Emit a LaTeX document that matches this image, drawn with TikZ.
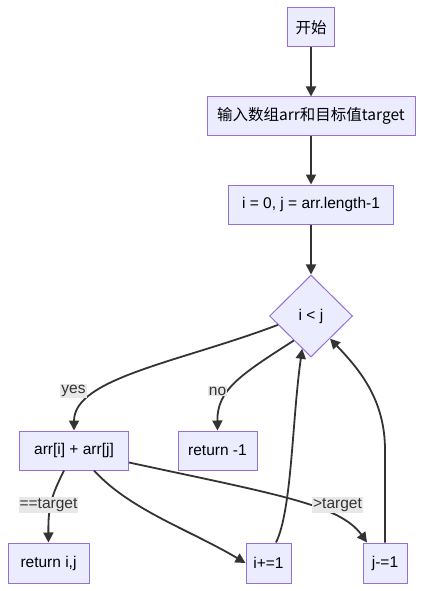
\documentclass[tikz,border=0pt]{standalone}
\usepackage{fontspec}
\setmainfont{Liberation Sans}
\newfontfamily\cjk{Noto Sans CJK SC}
\usetikzlibrary{shapes.geometric,arrows.meta}
\definecolor{nodefill}{HTML}{ECECFF}
\definecolor{nodeline}{HTML}{9370DB}
\definecolor{edgecol}{HTML}{333333}
\definecolor{lblbg}{HTML}{E8E8E8}
\tikzset{
  box/.style={draw=nodeline, fill=nodefill, line width=1pt, inner sep=0pt, font=\fontsize{15.5}{18}\selectfont},
  cond/.style={box, diamond},
  edge/.style={draw=edgecol, line width=1.8pt, -{Triangle[length=10pt,width=10pt]}},
  lbl/.style={fill=lblbg, inner sep=1pt, font=\fontsize{15.5}{18}\selectfont, text=edgecol},
}
\begin{document}
\begin{tikzpicture}[x=1pt,y=-1pt]
\useasboundingbox (0,0) rectangle (423,591);
\fill[white] (0,0) rectangle (423,591);
\node[box, minimum width=47pt, minimum height=39pt] (start) at (311,27.5) {\cjk{开始}};
\node[box, minimum width=208pt, minimum height=38pt] (input) at (311,116) {\cjk{输入数组}arr\cjk{和目标值}target};
\node[box, minimum width=165pt, minimum height=39pt] (init) at (311,204.5) {i = 0, j = arr.length-1};
\node[cond, minimum width=83pt, minimum height=82pt] (cmp) at (311,316) {i < j};
\node[box, minimum width=109pt, minimum height=39pt] (sum) at (74,450.5) {arr[i] + arr[j]};
\node[box, minimum width=79pt, minimum height=39pt] (ret1) at (217.5,450.5) {return -1};
\node[box, minimum width=81pt, minimum height=40pt] (retij) at (48.5,563) {return i,j};
\node[box, minimum width=45pt, minimum height=40pt] (inc) at (268.5,563) {i+=1};
\node[box, minimum width=44pt, minimum height=40pt] (dec) at (385,563) {j-=1};

\draw[edge] (start) -- (input);
\draw[edge] (input) -- (init);
\draw[edge] (init) -- (cmp);
\draw[edge] (cmp.-165) .. controls (180,362) and (74,378) .. (sum.north);
\draw[edge] (cmp.-125) .. controls (240,375) and (217,390) .. (ret1.north);
\draw[edge] (inc.north) ++(7.5,0) coordinate (incs) (incs) .. controls (292,510) and (292,420) .. (cmp.-105);
\draw[edge] (dec.north) -- (385,450) .. controls (385,400) and (360,370) .. (cmp.-50);
\draw[edge] (sum.south) ++(-10,0) coordinate (sa) (sa) .. controls (52,495) and (48,505) .. (retij.north);
\draw[edge] (sum.south) ++(20,0) coordinate (sb) (sb) .. controls (130,510) and (190,530) .. (inc.west);
\draw[edge] (sum.east) ++(0,12) coordinate (sc) (sc) .. controls (280,495) and (340,505) .. ([xshift=-18pt]dec.north);

\node[lbl] (lyes) at (73.5,391) {yes};
\node[lbl] (lno) at (217.5,391) {no};
\node[lbl] (leq) at (48.5,505) {==target};
\node[lbl] (lgt) at (337.5,505) {>target};
\end{tikzpicture}
\end{document}
